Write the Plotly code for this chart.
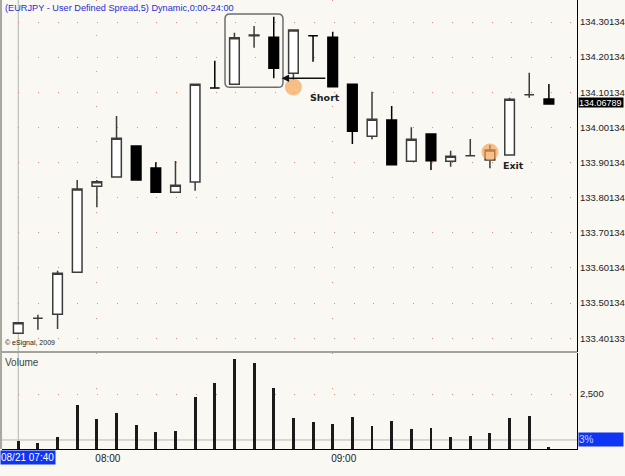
import plotly.graph_objects as go

# ---- data ----
times = ["07:40", "07:45", "07:50", "07:55", "08:00", "08:05", "08:10", "08:15", "08:20", "08:25",
         "08:30", "08:35", "08:40", "08:45", "08:50", "08:55", "09:00", "09:05", "09:10", "09:15",
         "09:20", "09:25", "09:30", "09:35", "09:40", "09:45", "09:50", "09:55"]
opens = [133.4154, 133.4581, 133.4695, 133.5890, 133.8338, 133.8602, 133.9485, 133.8859, 133.8167, 133.8460,
         134.1135, 134.1240, 134.2624, 134.2578, 134.1554, 134.2624, 134.2578, 134.1240, 133.9761, 134.0225,
         133.9049, 133.9826, 133.9049, 133.9209, 133.9086, 133.9229, 134.0945, 134.0822]
highs = [133.4456, 133.4681, 133.5937, 133.8517, 133.8517, 134.0338, 133.9485, 133.9021, 133.9058, 134.1240,
         134.1912, 134.2709, 134.2900, 134.3164, 134.2786, 134.2624, 134.2737, 134.1240, 134.1030, 134.0623,
         134.0017, 133.9826, 133.9351, 133.9684, 133.9513, 134.0859, 134.1571, 134.1249]
lows = [133.4154, 133.4254, 133.4277, 133.5890, 133.7740, 133.8602, 133.8517, 133.8167, 133.8167, 133.8213,
        134.1135, 134.1240, 134.2282, 134.1411, 134.1363, 134.1884, 134.1172, 133.9542, 133.9675, 133.8952,
        133.9049, 133.8802, 133.8896, 133.9209, 133.8850, 133.9229, 134.0859, 134.0679]
closes = [133.4456, 133.4581, 133.5862, 133.8261, 133.8469, 133.9703, 133.8517, 133.8167, 133.8366, 134.1240,
          134.1135, 134.2567, 134.2640, 134.1696, 134.2786, 134.2624, 134.1172, 133.9903, 134.0245, 133.8952,
          133.9675, 133.9066, 133.9191, 133.9209, 133.9371, 134.0814, 134.0945, 134.06789]
volumes = [364, 273, 530, 2000, 1350, 1650, 1105, 760, 818, 2364,
           2985, 4077, 3895, 2786, 1423, 1227, 1136, 1470, 1030, 1286,
           895, 955, 530, 605, 713, 1395, 1500, 105]

price_ticks = [134.30134, 134.20134, 134.10134, 134.00134, 133.90134, 133.80134,
               133.70134, 133.60134, 133.50134, 133.40133]
price_tick_text = ["134.30134", "134.20134", "134.10134", "134.00134", "133.90134", "133.80134",
                   "133.70134", "133.60134", "133.50134", "133.40133"]
vol_ticks = [2500]
vol_tick_text = ["2,500"]
vol_ref = 410

title_text = "(EURJPY - User Defined Spread,5) Dynamic,0:00-24:00"
cursor_label = "08/21 07:40"

short_idx, short_price = 14, 134.1164
exit_idx, exit_price = 24, 133.9314
arrow_head = (13.4, 134.1411)
arrow_tail = (15.7, 134.1411)
short_text_pos = (15.6, 134.0879)
exit_text_pos = (25.2, 133.8927)
hl_x = [10.52, 13.47]
hl_y = [134.1155, 134.3241]

# ---- figure ----
idx = list(range(len(times)))
BG = "#F9F8F2"
DOT = "#D9937A"
FONT = "Liberation Sans"

fig = go.Figure()
fig.add_trace(go.Candlestick(
    x=idx, open=opens, high=highs, low=lows, close=closes,
    increasing=dict(line=dict(color="#3C3C3C", width=1.5), fillcolor="#FFFFFF"),
    decreasing=dict(line=dict(color="#000000", width=1.5), fillcolor="#000000"),
    whiskerwidth=0, xaxis="x", yaxis="y", showlegend=False, hoverinfo="skip"))
fig.add_trace(go.Bar(x=idx, y=volumes, width=0.15, marker=dict(color="#1A1A1A", line=dict(width=0)),
                     xaxis="x", yaxis="y2", showlegend=False, hoverinfo="skip"))
fig.add_trace(go.Scatter(x=[short_idx, exit_idx], y=[short_price, exit_price], mode="markers",
                         marker=dict(size=17, color="rgba(246,160,80,0.66)", line=dict(width=0)),
                         xaxis="x", yaxis="y", showlegend=False, hoverinfo="skip"))

PANE_BOTTOM = (449 - 352) / 449
VOL_TOP = (449 - 353) / 449

tick_idx = [i for i, t in enumerate(times) if t.endswith(":00")]

fig.update_layout(
    width=625, height=476,
    margin=dict(l=2, r=46, t=0, b=27),
    paper_bgcolor=BG, plot_bgcolor=BG,
    font=dict(family=FONT, size=10, color="#222222"),
    bargap=0,
    xaxis=dict(domain=[0, 1], anchor="y2", range=[-0.827, 28.43],
               tickvals=tick_idx, ticktext=[times[i] for i in tick_idx],
               ticklabelshift=11, ticklabelstandoff=0,
               showgrid=True, gridcolor=DOT, gridwidth=1, griddash="1px,34.3px",
               showline=True, linecolor="#000000", linewidth=1, ticks="",
               zeroline=False, rangeslider=dict(visible=False),
               tickfont=dict(family=FONT, size=10, color="#222222")),
    yaxis=dict(domain=[PANE_BOTTOM, 1], anchor="x", side="right",
               range=[133.36223, 134.36395], tickvals=price_ticks, ticktext=price_tick_text,
               showgrid=True, gridcolor=DOT, gridwidth=1, griddash="0px,16.3px,1px,2.42px",
               showline=True, linecolor="#000000", linewidth=1, ticks="", zeroline=False,
               tickfont=dict(family=FONT, size=9.5, color="#222222")),
    yaxis2=dict(domain=[0, VOL_TOP], anchor="x", side="right",
                range=[0, 4363.6], tickvals=vol_ticks, ticktext=vol_tick_text,
                showgrid=True, gridcolor=DOT, gridwidth=1, griddash="0px,16.3px,1px,2.42px",
                showline=True, linecolor="#000000", linewidth=1, ticks="", zeroline=False,
                tickfont=dict(family=FONT, size=9.5, color="#222222")),
)

r_x, r_y = 0.25, 0.014
x0, x1 = hl_x
y0, y1 = hl_y
path = (f"M {x0 + r_x},{y1} L {x1 - r_x},{y1} Q {x1},{y1} {x1},{y1 - r_y} "
        f"L {x1},{y0 + r_y} Q {x1},{y0} {x1 - r_x},{y0} L {x0 + r_x},{y0} "
        f"Q {x0},{y0} {x0},{y0 + r_y} L {x0},{y1 - r_y} Q {x0},{y1} {x0 + r_x},{y1} Z")

fig.update_layout(shapes=[
    dict(type="line", xref="x", yref="paper", x0=0, x1=0, y0=0, y1=1,
         line=dict(color="#B4B4AE", width=1), layer="below"),
    dict(type="line", xref="paper", yref="y2", x0=0, x1=1, y0=vol_ref, y1=vol_ref,
         line=dict(color="#B8B8B0", width=1), layer="below"),
    dict(type="line", xref="paper", yref="paper", x0=-0.004, x1=1, y0=PANE_BOTTOM, y1=PANE_BOTTOM,
         line=dict(color="#A3A29B", width=2)),
    dict(type="line", xref="paper", yref="paper", x0=-0.0017, x1=-0.0017, y0=0, y1=1,
         line=dict(color="#A8A8A0", width=2)),
    dict(type="path", xref="x", yref="y", path=path,
         line=dict(color="#6E6E6E", width=1.5)),
])

anns = [
    dict(text=title_text, xref="paper", yref="paper", x=0, y=1, xanchor="left", yanchor="top",
         xshift=1, yshift=-1, showarrow=False, font=dict(family=FONT, size=9.2, color="#2B2BD8")),
    dict(text="© eSignal, 2009", xref="paper", yref="paper", x=0, y=PANE_BOTTOM, xanchor="left",
         yanchor="bottom", xshift=1, yshift=3, showarrow=False,
         font=dict(family=FONT, size=7, color="#222222")),
    dict(text="Volume", xref="paper", yref="paper", x=0, y=VOL_TOP, xanchor="left", yanchor="top",
         xshift=1, yshift=-2, showarrow=False, font=dict(family=FONT, size=10, color="#444444")),
    dict(text="<b>Short</b>", xref="x", yref="y", x=short_text_pos[0], y=short_text_pos[1],
         showarrow=False, font=dict(family="DejaVu Sans", size=9.5, color="#222222")),
    dict(text="<b>Exit</b>", xref="x", yref="y", x=exit_text_pos[0], y=exit_text_pos[1],
         showarrow=False, font=dict(family="DejaVu Sans", size=9.5, color="#222222")),
    dict(x=arrow_head[0], y=arrow_head[1], ax=arrow_tail[0], ay=arrow_tail[1],
         xref="x", yref="y", axref="x", ayref="y", text="", showarrow=True,
         arrowhead=2, arrowsize=1, arrowwidth=1.5, arrowcolor="#111111"),
    dict(text=f"{closes[-1]:.5f}", xref="paper", yref="y", x=1, y=closes[-1], xanchor="left",
         yanchor="middle", xshift=1, yshift=2, showarrow=False, bgcolor="#000000",
         width=44, height=9, align="left", borderpad=0,
         font=dict(family=FONT, size=9, color="#FFFFFF")),
    dict(text="3%", xref="paper", yref="y2", x=1, y=vol_ref, xanchor="left", yanchor="middle",
         xshift=1, showarrow=False, bgcolor="#1034F4", width=44, height=13, align="left",
         borderpad=0, font=dict(family=FONT, size=10, color="#C8D0F4")),
    dict(text=cursor_label, xref="paper", yref="paper", x=0, y=0, xanchor="left", yanchor="top",
         xshift=-2, yshift=-1, showarrow=False, bgcolor="#1034F4", width=54, height=13,
         align="left", borderpad=0, font=dict(family=FONT, size=10, color="#FFFFFF")),
]
fig.update_layout(annotations=anns)

fig.write_html("out.html")
